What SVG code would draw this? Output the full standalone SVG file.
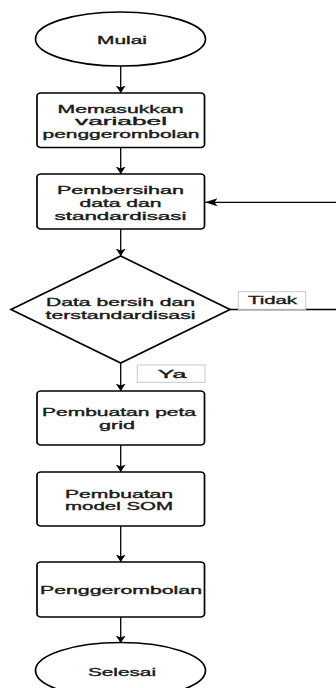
<svg xmlns="http://www.w3.org/2000/svg" width="336" height="688" viewBox="0 0 336 688">
<style>
.shape{fill:#fff;stroke:#000;stroke-width:1.7}
.lbl{fill:#fff;stroke:#c8c8c8;stroke-width:1}
.edge{fill:none;stroke:#000;stroke-width:1.3}
text{font-family:"Liberation Sans",Arial,sans-serif;font-size:11px;fill:#1a1a1a;stroke:#1a1a1a;stroke-width:0.35;text-anchor:middle}
</style>
<defs>
<marker id="arrV" markerUnits="userSpaceOnUse" viewBox="0 0 8 12" refX="7.5" refY="6" markerWidth="8" markerHeight="12" orient="auto">
<path d="M0,1 L7.5,6 L0,11 L2,6 Z" fill="#000"/>
</marker>
<marker id="arrH" markerUnits="userSpaceOnUse" viewBox="0 0 13 10" refX="12.5" refY="5" markerWidth="13" markerHeight="10" orient="auto">
<path d="M0,1 L12.5,5 L0,9 L3,5 Z" fill="#000"/>
</marker>
</defs>
<g id="connectors">
<line class="edge" x1="120.7" y1="66" x2="120.7" y2="93" marker-end="url(#arrV)"/>
<line class="edge" x1="120.7" y1="147.5" x2="120.7" y2="174" marker-end="url(#arrV)"/>
<line class="edge" x1="120.7" y1="229" x2="120.7" y2="256" marker-end="url(#arrV)"/>
<line class="edge" x1="120.7" y1="363" x2="120.7" y2="391" marker-end="url(#arrV)"/>
<line class="edge" x1="120.7" y1="445" x2="120.7" y2="472" marker-end="url(#arrV)"/>
<line class="edge" x1="120.7" y1="526" x2="120.7" y2="562" marker-end="url(#arrV)"/>
<line class="edge" x1="120.7" y1="617" x2="120.7" y2="643" marker-end="url(#arrV)"/>
<path class="edge" d="M230,309.5 H340 V202.3 H205" marker-end="url(#arrH)"/>
</g>
<g id="mulai">
<ellipse class="shape" cx="120.5" cy="39" rx="85" ry="27"/>
<text x="122" y="44" textLength="50" lengthAdjust="spacingAndGlyphs">Mulai</text>
</g>
<g id="memasukkan">
<rect class="shape" x="37" y="93" width="167.5" height="54.5" rx="4" ry="3"/>
<text x="120.5" y="112.5" textLength="126" lengthAdjust="spacingAndGlyphs">Memasukkan</text>
<text x="121" y="125" textLength="92" lengthAdjust="spacingAndGlyphs">variabel</text>
<text x="121" y="137.5" textLength="157" lengthAdjust="spacingAndGlyphs">penggerombolan</text>
</g>
<g id="pembersihan">
<rect class="shape" x="37" y="174" width="167.5" height="55" rx="4" ry="3"/>
<text x="120.5" y="193.5" textLength="127" lengthAdjust="spacingAndGlyphs">Pembersihan</text>
<text x="120.5" y="206.5" textLength="82" lengthAdjust="spacingAndGlyphs">data dan</text>
<text x="120.5" y="219.5" textLength="132" lengthAdjust="spacingAndGlyphs">standardisasi</text>
</g>
<g id="keputusan">
<polygon class="shape" points="120.7,256 230,309.5 120.7,363 11,309.5"/>
<text x="120.5" y="306" textLength="149" lengthAdjust="spacingAndGlyphs">Data bersih dan</text>
<text x="120.5" y="318.5" textLength="150" lengthAdjust="spacingAndGlyphs">terstandardisasi</text>
</g>
<g id="label-tidak">
<rect class="lbl" x="238.3" y="291.7" width="67.4" height="17.6"/>
<text x="272.5" y="304.3" textLength="49" lengthAdjust="spacingAndGlyphs">Tidak</text>
</g>
<g id="label-ya">
<rect class="lbl" x="137.3" y="365" width="67.7" height="17.3"/>
<text x="172" y="378" textLength="28.5" lengthAdjust="spacingAndGlyphs">Ya</text>
</g>
<g id="peta-grid">
<rect class="shape" x="37" y="391" width="167.5" height="54" rx="4" ry="3"/>
<text x="119" y="416" textLength="154" lengthAdjust="spacingAndGlyphs">Pembuatan peta</text>
<text x="117" y="428.5" textLength="36" lengthAdjust="spacingAndGlyphs">grid</text>
</g>
<g id="model-som">
<rect class="shape" x="37" y="472" width="167.5" height="54" rx="4" ry="3"/>
<text x="119" y="497.7" textLength="108" lengthAdjust="spacingAndGlyphs">Pembuatan</text>
<text x="119" y="510" textLength="108" lengthAdjust="spacingAndGlyphs">model SOM</text>
</g>
<g id="penggerombolan">
<rect class="shape" x="37" y="562" width="167.5" height="55" rx="4" ry="3"/>
<text x="121" y="594" textLength="162" lengthAdjust="spacingAndGlyphs">Penggerombolan</text>
</g>
<g id="selesai">
<ellipse class="shape" cx="120.5" cy="670.5" rx="85" ry="28"/>
<text x="122" y="675.7" textLength="68" lengthAdjust="spacingAndGlyphs">Selesai</text>
</g>
</svg>
